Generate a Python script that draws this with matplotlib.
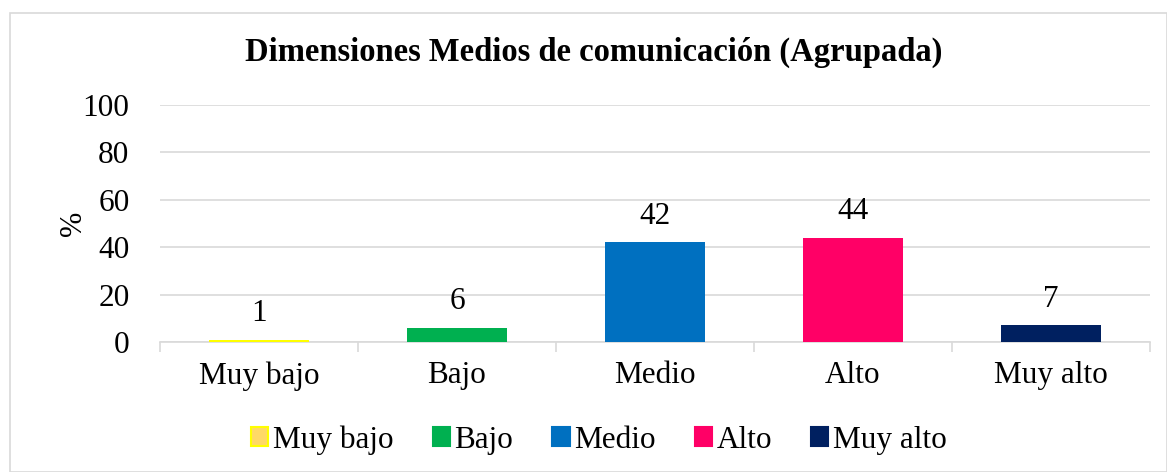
import matplotlib
matplotlib.use("Agg")
import matplotlib.pyplot as plt
from matplotlib.patches import Patch, Rectangle

categories = ["Muy bajo", "Bajo", "Medio", "Alto", "Muy alto"]
values = [1, 6, 42, 44, 7]
colors = ["#FFFF00", "#00B050", "#0070C0", "#FF0066", "#002060"]
legend_faces = ["#FFD966", "#00B050", "#0070C0", "#FF0066", "#002060"]
legend_edges = ["#FFFF00", "#00B050", "#0070C0", "#FF0066", "#002060"]
yticks = [0, 20, 40, 60, 80, 100]

plt.rcParams["font.family"] = ["Liberation Serif", "DejaVu Serif"]

fig = plt.figure(figsize=(11.67, 4.72), dpi=100)
ax = fig.add_axes([160 / 1167, 1 - 342 / 472, 990 / 1167, 237 / 472])

# outer chart border
fig.patches.append(Rectangle((10 / 1167, 0), 1 - 10 / 1167, 1 - 13 / 472,
                             transform=fig.transFigure, fill=False,
                             edgecolor="#D9D9D9", linewidth=1.2))

x = list(range(len(categories)))
ax.bar(x, values, width=0.51, color=colors, zorder=3)
for xi, v in zip(x, values):
    ax.text(xi, v + 5, str(v), ha="center", va="bottom", fontsize=22.5)

ax.set_xlim(-0.5, len(categories) - 0.5)
ax.set_ylim(0, 100)
ax.set_yticks(yticks)
ax.set_yticklabels([str(t) for t in yticks], fontsize=22.5)
ax.tick_params(axis="y", length=0, pad=22)
ax.yaxis.grid(True, color="#D9D9D9", linewidth=1.2, zorder=0)

ax.set_xticks(x)
ax.set_xticklabels(categories, fontsize=22.5)
ax.tick_params(axis="x", length=0, pad=14)
# category separator ticks
ax.set_xticks([i - 0.5 for i in range(len(categories) + 1)], minor=True)
ax.tick_params(axis="x", which="minor", length=7, color="#D9D9D9", width=1.2)

for s in ["top", "right", "left"]:
    ax.spines[s].set_visible(False)
ax.spines["bottom"].set_color("#D9D9D9")
ax.spines["bottom"].set_linewidth(1.2)

ax.set_ylabel("%", fontsize=22, labelpad=-4)

fig.text(594 / 1167, 1 - 52 / 472, "Dimensiones Medios de comunicación (Agrupada)",
         ha="center", va="center", fontsize=23.5, fontweight="bold")

handles = [Patch(facecolor=f, edgecolor=e, linewidth=1.5)
           for f, e in zip(legend_faces, legend_edges)]
fig.legend(handles, categories, loc="center", bbox_to_anchor=(599 / 1167, 1 - 440 / 472),
           ncol=5, frameon=False, fontsize=22.5, handlelength=0.55, handleheight=0.55,
           handletextpad=0.15, columnspacing=1.25)

fig.savefig("out.png", dpi=100)
